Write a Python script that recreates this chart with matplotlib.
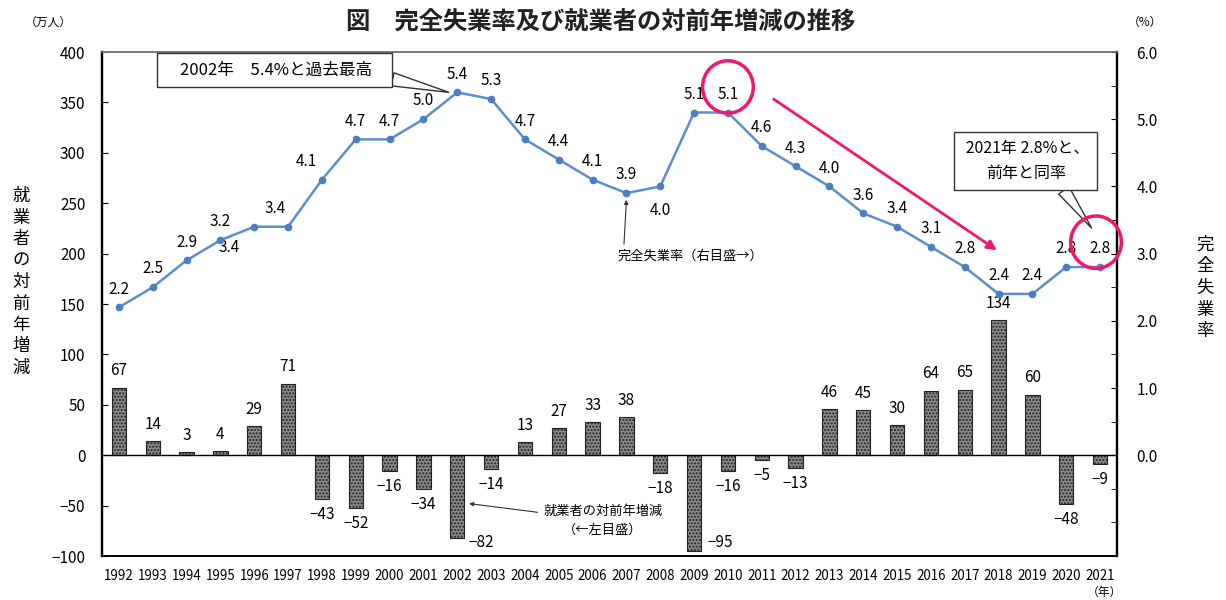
import numpy as np
import matplotlib
matplotlib.use("Agg")
from matplotlib import pyplot as plt
from matplotlib.patches import Ellipse

plt.rcParams['font.family'] = ['Noto Sans CJK JP', 'DejaVu Sans']

years = list(range(1992, 2022))
# 就業者の対前年増減（万人）
employed_change = [67, 14, 3, 4, 29, 71, -43, -52, -16, -34, -82, -14, 13, 27, 33, 38,
                   -18, -95, -16, -5, -13, 46, 45, 30, 64, 65, 134, 60, -48, -9]
# 完全失業率（%）
unemp_rate = [2.2, 2.5, 2.9, 3.2, 3.4, 3.4, 4.1, 4.7, 4.7, 5.0, 5.4, 5.3, 4.7, 4.4, 4.1, 3.9,
              4.0, 5.1, 5.1, 4.6, 4.3, 4.0, 3.6, 3.4, 3.1, 2.8, 2.4, 2.4, 2.8, 2.8]

left_ticks = list(range(-100, 401, 50))
right_ticks = [0, 1, 2, 3, 4, 5, 6]

x = np.arange(len(years))

fig = plt.figure(figsize=(12.26, 6.0), dpi=100)
ax = fig.add_axes([0.0832, 0.0733, 0.8279, 0.84])
ax2 = ax.twinx()

# bars (left axis)
ax.bar(x, employed_change, width=0.42, color='#8a8a8a', edgecolor='#222222',
       hatch='.....', linewidth=0.8, zorder=2)
ax.axhline(0, color='black', lw=1.0, zorder=3)
ax.set_xlim(-0.5, len(years) - 0.5)
ax.set_ylim(-100, 400)
ax.set_yticks(left_ticks)
ax.set_xticks(x)
ax.set_xticklabels([str(y) for y in years], fontsize=9.6)
ax.tick_params(axis='x', length=0, pad=9)
ax.tick_params(axis='y', direction='in', length=4, labelsize=11, pad=12)

for i, v in enumerate(employed_change):
    if v >= 0:
        ax.annotate(str(v), (i, v), xytext=(0, 6), textcoords='offset points',
                    ha='center', va='bottom', fontsize=11)
    else:
        dx, dy = 0, -5
        if v == -82:
            dx, dy = 17, 3
        elif v == -95:
            dx, dy = 19, 12
        ax.annotate('−' + str(-v), (i, v), xytext=(dx, dy), textcoords='offset points',
                    ha='center', va='top', fontsize=11)

# line (right axis)
ax2.set_ylim(-1.5, 6.0)
ax2.plot(x, unemp_rate, color='#5a8fcf', lw=1.8, marker='o', markersize=4.5,
         markerfacecolor='#4a7fc0', markeredgecolor='#4a7fc0', zorder=4)
ax2.set_yticks(right_ticks)
ax2.set_yticks(np.arange(-1.5, 6.01, 0.5), minor=True)
ax2.set_yticklabels(['%.1f' % t for t in right_ticks], fontsize=11)
ax2.tick_params(axis='y', which='both', direction='in', length=4, pad=14)

for i, v in enumerate(unemp_rate):
    dx, dy, va = 0, 7, 'bottom'
    if years[i] == 1996:
        dx, dy, va = -18, -9, 'top'
    elif years[i] == 1997:
        dx = -9
    elif years[i] == 1998:
        dx = -11
    elif years[i] == 2008:
        dx, dy, va = 0, -11, 'top'
    ax2.annotate('%.1f' % v, (i, v), xytext=(dx, dy), textcoords='offset points',
                 ha='center', va=va, fontsize=11)

for a in (ax, ax2):
    a.spines['left'].set_linewidth(1.6)
    a.spines['right'].set_linewidth(1.6)
    a.spines['top'].set_color('#777777')
    a.spines['top'].set_linewidth(1.2)
    a.spines['bottom'].set_linewidth(1.2)

# callouts
i02 = years.index(2002)
ax2.annotate('    2002年　5.4%と過去最高   ', xy=(i02 - 0.25, 5.4), xytext=(4.6, 5.73),
             ha='center', va='center', fontsize=12,
             bbox=dict(boxstyle='square,pad=0.5', fc='white', ec='#333333', lw=1.0),
             arrowprops=dict(arrowstyle='wedge,tail_width=0.8', fc='white', ec='#333333',
                             lw=1.0, shrinkA=0, shrinkB=0, relpos=(0.96, 0.2)))

i21 = years.index(2021)
ax2.annotate(' 2021年 2.8%と、\n前年と同率', xy=(i21 - 0.25, 3.38), xytext=(26.8, 4.38),
             ha='center', va='center', fontsize=11.5, linespacing=1.6,
             bbox=dict(boxstyle='square,pad=0.5', fc='white', ec='#333333', lw=1.0),
             arrowprops=dict(arrowstyle='wedge,tail_width=0.8', fc='white', ec='#333333',
                             lw=1.0, shrinkA=0, shrinkB=0, relpos=(0.75, 0.0)))

i07 = years.index(2007)
ax2.annotate('完全失業率（右目盛→）', xy=(i07, 3.8), xytext=(i07 + 1.9, 2.96),
             ha='center', va='center', fontsize=9.5,
             arrowprops=dict(arrowstyle='-|>', color='#333333', lw=0.8,
                             mutation_scale=6, relpos=(0.04, 1.0), shrinkA=2, shrinkB=0))

ax.annotate('就業者の対前年増減\n（←左目盛）', xy=(i02 + 0.35, -48), xytext=(i02 + 4.3, -65),
            ha='center', va='center', fontsize=9.5, linespacing=1.5,
            arrowprops=dict(arrowstyle='-|>', color='#333333', lw=0.8,
                            mutation_scale=6, relpos=(0.0, 0.75), shrinkA=2, shrinkB=0))

# pink highlights
pink = '#f0186e'
i10 = years.index(2010)
ax2.add_patch(Ellipse((i10, 5.48), 1.5, 0.78, fill=False, ec=pink, lw=2.5, zorder=6,
                      clip_on=False))
ax2.add_patch(Ellipse((i21 - 0.12, 3.17), 1.5, 0.78, fill=False, ec=pink, lw=2.5, zorder=6,
                      clip_on=False))
ax2.annotate('', xy=(years.index(2018) - 0.05, 3.05), xytext=(i10 + 1.35, 5.3),
             arrowprops=dict(arrowstyle='-|>', color=pink, lw=2.0, mutation_scale=14,
                             shrinkA=0, shrinkB=0))

# titles and axis labels
fig.text(0.49, 0.963, '図　完全失業率及び就業者の対前年増減の推移', ha='center', va='center',
         fontsize=17.5, fontweight='bold', color='#222222')
fig.text(0.039, 0.963, '（万人）', ha='center', va='center', fontsize=8.5)
fig.text(0.934, 0.963, '（%）', ha='center', va='center', fontsize=8.5)
fig.text(0.017, 0.53, '\n'.join('就業者の対前年増減'), ha='center', va='center',
         fontsize=12.5, linespacing=1.25)
fig.text(0.983, 0.52, '\n'.join('完全失業率'), ha='center', va='center',
         fontsize=12.5, linespacing=1.25)
fig.text(0.901, 0.012, '（年）', ha='center', va='center', fontsize=8.5)

fig.savefig('out.png', dpi=100)
